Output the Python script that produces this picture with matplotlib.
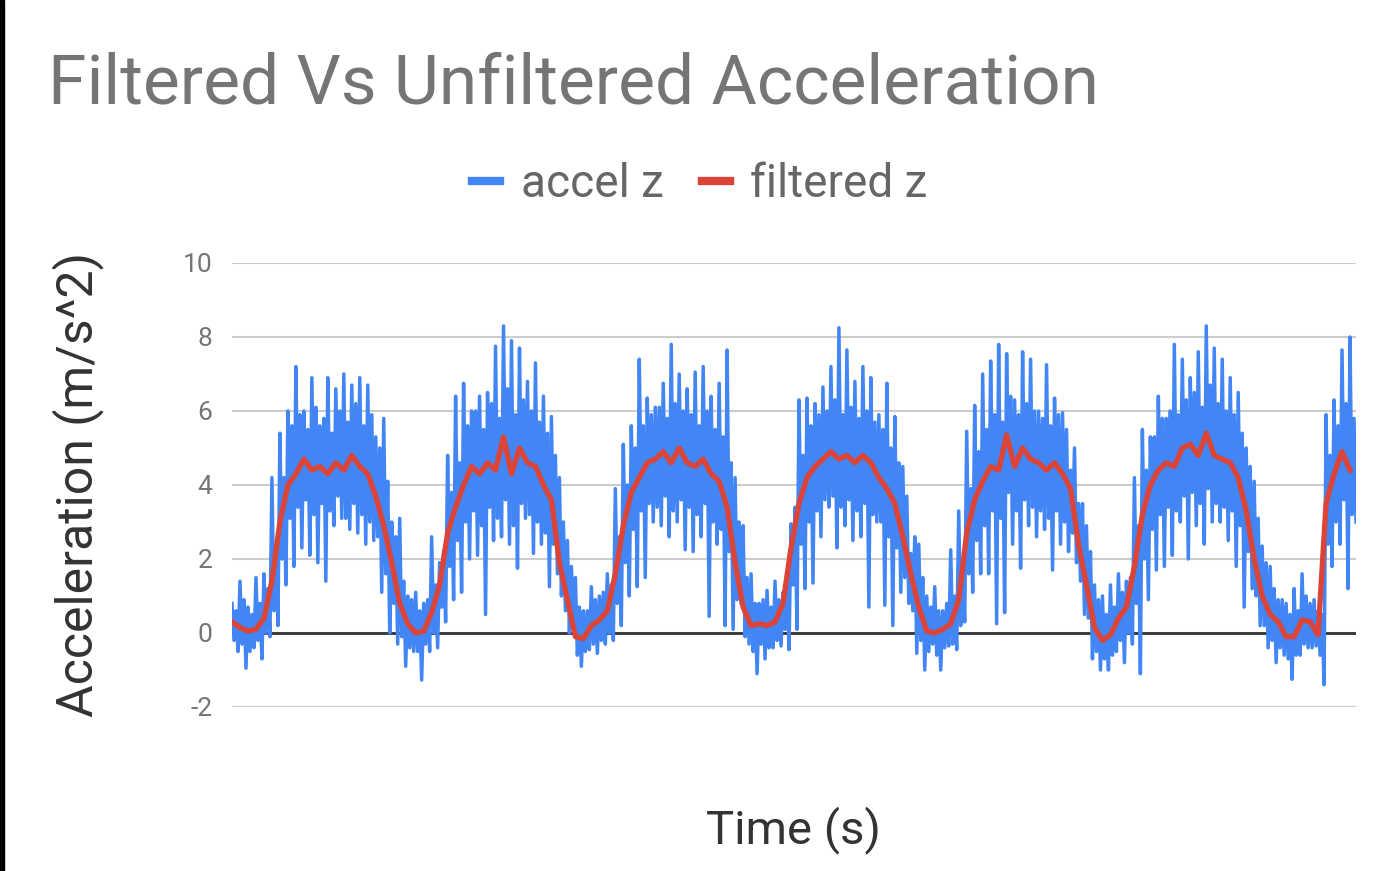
import numpy as np
import matplotlib.pyplot as plt
from matplotlib.patches import Rectangle

plt.rcParams['font.family'] = ['Roboto', 'DejaVu Sans']

# accel z: for each column the tallest spike, deepest dip,
# and a second (smaller) spike / dip that fills the dense core of the band
accel_hi = [0.8, 1.4, 0.7, 1.5, 1.6, 4.2, 5.4, 6.0, 7.2, 6.0, 6.9, 5.6, 6.9, 6.6, 7.0, 6.7, 6.9, 6.7, 5.3, 5.8,
            3.0, 3.1, 1.0, 1.1, 0.8, 2.6, 1.9, 4.8, 6.4,
            6.75, 6.0, 6.4, 6.5, 7.75, 8.3, 7.9, 7.7, 6.8, 7.3, 6.4, 5.85, 4.2, 2.5, 1.5, 0.6, 1.25, 1.0, 1.6, 3.9,
            5.1, 5.6, 7.4, 6.35, 6.1, 6.75, 7.8, 7.0,
            6.6, 7.05, 7.2, 6.4, 6.75, 7.65, 4.2, 2.9, 1.6, 0.8, 1.15, 1.4, 1.1, 2.95, 6.3, 6.35, 6.2, 6.65, 7.2,
            8.25, 7.65, 6.8, 7.2, 6.9, 5.9, 6.75, 5.85, 4.5,
            2.15, 2.4, 1.0, 1.25, 0.6, 2.25, 3.3, 5.45, 6.15, 7.0, 7.35, 7.8, 7.55, 6.3, 7.6, 7.4, 6.0, 7.25, 6.35,
            5.95, 4.4, 3.5, 2.9, 1.3, 1.0, 1.3, 1.6, 1.4,
            4.2, 5.5, 5.3, 6.4, 5.8, 7.8, 7.4, 6.9, 7.6, 8.3, 7.7, 7.4, 6.9, 6.5, 5.0, 4.1, 2.35, 1.8, 0.9, 0.8,
            1.2, 1.6, 0.8, 0.6, 5.9, 6.3, 7.65, 8.0]
accel_lo = [-0.5, -0.95, -0.4, -0.7, -0.1, 0.2, 1.3, 1.8, 2.3, 2.1, 1.9, 1.4, 2.9, 3.1, 2.8, 2.7, 2.4, 2.5, 1.1, 0.0,
            -0.3, -0.9, -0.5, -1.27, -0.5, -0.4, 0.3, 0.9, 1.1,
            2.0, 2.1, 0.5, 2.5, 2.6, 2.4, 1.75, 3.1, 2.15, 2.4, 1.25, 1.6, 0.6, 0.2, -0.9, -0.45, -0.55, -0.3, -0.2,
            0.2, 1.0, 1.25, 1.5, 3.0, 2.9, 2.6, 3.0, 2.25,
            2.2, 2.6, 0.45, 2.4, 0.2, 0.1, 0.8, -0.3, -1.1, -0.7, -0.4, -0.35, -0.45, 0.1, 1.2, 1.35, 2.6, 3.4, 2.3,
            2.9, 2.5, 2.6, 0.7, 3.0, 0.75, 0.2, 1.1, 0.8,
            -0.55, -1.0, -0.3, -1.0, -0.35, -0.45, 0.3, 1.1, 1.6, 1.6, 0.25, 0.55, 2.4, 1.75, 2.9, 2.6, 2.8, 1.7,
            2.4, 2.2, 1.9, 0.5, -0.7, -1.0, -1.0, -0.5, -0.8, -0.3,
            -1.1, 0.9, 1.7, 1.8, 2.1, 3.0, 2.0, 2.9, 2.4, 3.0, 3.0, 2.5, 1.8, 0.7, 1.2, 0.2, -0.4, -0.8, -0.6,
            -1.25, -0.6, -0.4, -0.35, -1.4, 1.8, 2.4, 1.2, 3.0]
accel_hi2 = [0.6, 0.9, 0.5, 0.8, 1.2, 2.3, 4.2, 5.6, 5.9, 5.5, 6.1, 5.8, 5.4, 6.0, 5.7, 6.2, 5.6, 5.9, 5.0, 4.1,
             2.6, 1.4, 0.9, 0.6, 0.9, 1.3, 2.2, 3.8, 4.6,
             5.6, 6.0, 5.5, 6.2, 5.8, 6.6, 5.9, 6.3, 6.0, 5.7, 5.4, 4.8, 3.0, 1.8, 0.7, 0.6, 0.9, 1.1, 1.3, 2.6,
             4.0, 5.0, 5.6, 5.9, 6.1, 5.8, 6.2, 6.0,
             5.9, 5.6, 6.0, 5.5, 5.3, 4.6, 3.0, 1.5, 0.8, 0.9, 0.7, 0.9, 1.6, 3.4, 4.8, 5.6, 5.9, 6.0, 6.3,
             5.9, 6.1, 5.8, 6.0, 5.7, 5.5, 5.0, 4.6, 3.7,
             2.6, 1.5, 0.7, 0.6, 0.8, 1.0, 1.8, 3.9, 4.9, 5.5, 5.9, 5.7, 6.4, 5.9, 6.2, 6.0, 5.8, 5.6, 5.9,
             5.5, 5.0, 3.5, 2.2, 0.9, 0.5, 0.7, 1.1, 1.5,
             2.9, 4.4, 5.3, 5.8, 6.0, 5.9, 6.3, 6.5, 6.1, 6.7, 6.2, 6.0, 5.9, 5.4, 4.5, 3.1, 1.9, 1.2, 0.9, 0.5,
             0.6, 1.0, 0.9, 0.5, 4.8, 5.6, 6.2, 5.8]
accel_lo2 = [-0.2, -0.3, -0.5, -0.2, 0.0, 0.6, 2.0, 3.1, 3.4, 3.6, 3.2, 3.5, 3.3, 3.7, 3.1, 3.5, 3.2, 3.0, 2.6, 1.6,
             0.8, -0.1, -0.4, -0.5, -0.3, 0.0, 0.7, 1.8, 2.5,
             3.0, 3.3, 2.9, 3.4, 3.1, 3.6, 2.9, 3.5, 3.2, 3.0, 2.7, 2.4, 1.0, 0.0, -0.6, -0.5, -0.3, -0.2, 0.0, 0.8,
             1.9, 2.8, 3.3, 3.5, 3.4, 3.7, 3.3, 3.6,
             3.4, 3.2, 3.5, 3.0, 2.8, 2.2, 0.9, -0.1, -0.5, -0.3, -0.4, -0.2, 0.1, 1.3, 2.4, 3.0, 3.3, 3.6, 3.7,
             3.4, 3.6, 3.3, 3.5, 3.2, 3.0, 2.6, 2.3, 1.5,
             0.6, -0.2, -0.5, -0.6, -0.4, -0.3, 0.2, 1.6, 2.5, 2.9, 3.3, 3.1, 3.8, 3.3, 3.6, 3.4, 3.3, 3.1, 3.3,
             3.0, 2.7, 1.4, 0.4, -0.5, -0.7, -0.6, -0.2, 0.0,
             0.8, 2.0, 2.8, 3.2, 3.4, 3.3, 3.7, 3.8, 3.5, 3.9, 3.5, 3.4, 3.3, 2.9, 2.2, 1.0, 0.2, -0.2, -0.4, -0.7,
             -0.6, -0.3, -0.4, -0.6, 2.4, 3.0, 3.6, 3.2]
filtered_z = [0.3, 0.15, 0.05, 0.1, 0.4, 1.4, 3.0, 4.0, 4.3, 4.7, 4.4, 4.5, 4.3, 4.6, 4.4, 4.8, 4.5, 4.3, 3.7, 2.9,
              1.9, 0.8, 0.25, 0.0, 0.05, 0.55, 1.3, 2.7, 3.4,
              4.0, 4.5, 4.3, 4.6, 4.4, 5.3, 4.3, 5.0, 4.6, 4.5, 4.0, 3.6, 1.9, 0.9, -0.1, -0.15, 0.2, 0.35, 0.6,
              1.6, 2.9, 3.8, 4.2, 4.6, 4.7, 4.9, 4.6, 5.0,
              4.6, 4.5, 4.7, 4.3, 4.1, 3.4, 1.9, 0.7, 0.2, 0.25, 0.2, 0.3, 0.8, 2.3, 3.5, 4.2, 4.5, 4.7, 4.9,
              4.7, 4.8, 4.6, 4.8, 4.6, 4.2, 3.9, 3.5, 2.6,
              1.6, 0.7, 0.05, 0.0, 0.1, 0.25, 0.9, 2.7, 3.6, 4.1, 4.5, 4.4, 5.35, 4.5, 5.0, 4.7, 4.6, 4.4, 4.6,
              4.3, 3.9, 2.4, 1.3, 0.15, -0.2, -0.05, 0.4, 0.7,
              1.8, 3.2, 4.0, 4.4, 4.6, 4.5, 5.0, 5.1, 4.8, 5.4, 4.8, 4.7, 4.6, 4.2, 3.3, 2.0, 1.0, 0.5, 0.3, -0.1,
              -0.1, 0.35, 0.3, -0.05, 3.5, 4.3, 4.9, 4.4]
y_ticks = [-2, 0, 2, 4, 6, 8, 10]

accel_z = np.column_stack([accel_hi, accel_lo2, accel_hi2, accel_lo]).ravel()
t_accel = np.arange(len(accel_z)) * 2
t_filt = np.arange(len(filtered_z)) * 8

fig = plt.figure(figsize=(13.76, 8.71), dpi=100)
ax = fig.add_axes([232/1376, 1-707/871, 1124/1376, 444/871])

ax.plot(t_accel, accel_z, color='#4285F4', lw=2.5, label='accel z', zorder=3)
ax.plot(t_filt, filtered_z, color='#DB4437', lw=3.8, label='filtered z', zorder=4)
ax.axhline(0, color='#333333', lw=2, zorder=2)

ax.set_xlim(0, t_accel[-1])
ax.set_ylim(-2, 10)
ax.set_yticks(y_ticks)
ax.set_yticklabels([str(v) for v in y_ticks], fontsize=19, color='#757575')
ax.set_xticks([])
ax.tick_params(axis='y', length=0, pad=14)
ax.grid(axis='y', color='#cccccc', lw=1.5)
ax.set_axisbelow(True)
for s in ax.spines.values():
    s.set_visible(False)

fig.text(48/1376, 1-104/871, 'Filtered Vs Unfiltered Acceleration', fontsize=50, color='#757575')
fig.text(793/1376, 1-830/871, 'Time (s)', fontsize=34, color='#333333', ha='center', va='center')
fig.text(78/1376, 1-484/871, 'Acceleration (m/s^2)', fontsize=36, color='#333333',
         rotation=90, ha='center', va='center')

leg = fig.legend(loc='center', bbox_to_anchor=(700/1376, 1-184/871), ncol=2, frameon=False,
                 fontsize=33, handlelength=0.6, handletextpad=0.45, columnspacing=0.85)
for h in leg.get_lines():
    h.set_linewidth(6)
for txt in leg.get_texts():
    txt.set_color('#666666')

fig.patches.append(Rectangle((0, 0), 4/1376, 1, transform=fig.transFigure, color='black'))

fig.savefig('out.png', dpi=100)
